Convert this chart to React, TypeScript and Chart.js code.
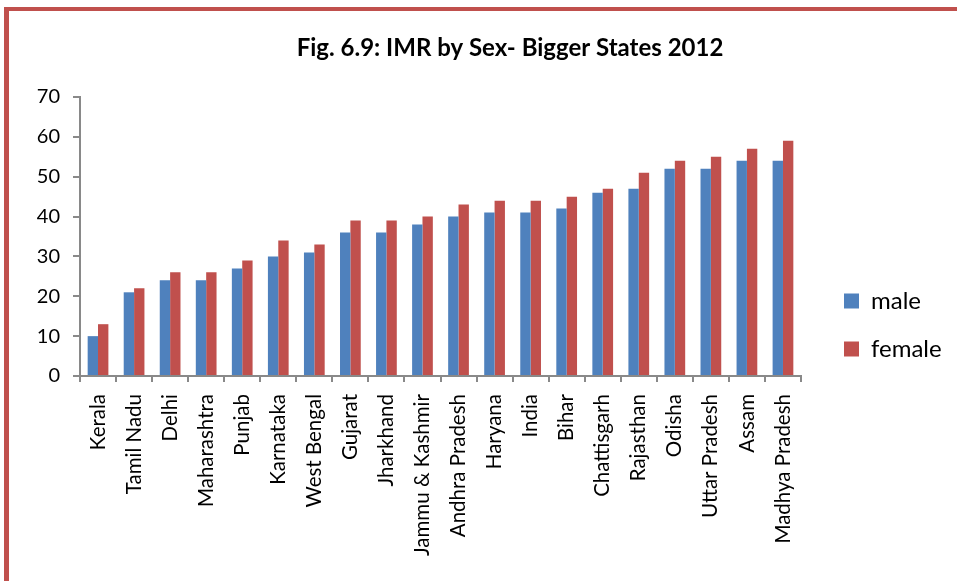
import React, { useEffect, useRef } from "react";
import { Chart, registerables } from "chart.js";

Chart.register(...registerables);

const categories = [
  "Kerala", "Tamil Nadu", "Delhi", "Maharashtra", "Punjab", "Karnataka", "West Bengal",
  "Gujarat", "Jharkhand", "Jammu & Kashmir", "Andhra Pradesh", "Haryana", "India", "Bihar",
  "Chattisgarh", "Rajasthan", "Odisha", "Uttar Pradesh", "Assam", "Madhya Pradesh",
];
const maleValues = [10, 21, 24, 24, 27, 30, 31, 36, 36, 38, 40, 41, 41, 42, 46, 47, 52, 52, 54, 54];
const femaleValues = [13, 22, 26, 26, 29, 34, 33, 39, 39, 40, 43, 44, 44, 45, 47, 51, 54, 55, 57, 59];
const seriesNames = ["male", "female"];
const titleText = "Fig. 6.9: IMR by Sex- Bigger States 2012";
const yMin = 0;
const yMax = 70;
const yStep = 10;

const FONT = "Lato, 'Liberation Sans', sans-serif";
const AXIS = "#898989";
const RIGHT_SPACE = 209; // canvas width minus chart-area right edge
const INNER_GAP = 19;

export default function App() {
  const ref = useRef<HTMLCanvasElement | null>(null);

  useEffect(() => {
    if (!ref.current) return;
    const chart = new Chart(ref.current, {
      type: "bar",
      data: {
        labels: categories,
        datasets: [
          { label: seriesNames[0], data: maleValues, backgroundColor: "#4F81BD", categoryPercentage: 0.575, barPercentage: 1 },
          { label: seriesNames[1], data: femaleValues, backgroundColor: "#C0504D", categoryPercentage: 0.575, barPercentage: 1 },
        ],
      },
      options: {
        responsive: false,
        animation: false,
        devicePixelRatio: 1,
        layout: { padding: 0 },
        plugins: {
          title: {
            display: true,
            text: titleText,
            color: "#000",
            font: { family: FONT, size: 24, weight: "bold", lineHeight: 1.2 },
            padding: { top: 21.6, bottom: 34.6 },
          },
          legend: {
            position: "right",
            align: "center",
            labels: {
              boxWidth: 15,
              boxHeight: 15,
              padding: 24,
              color: "#000",
              font: { family: FONT, size: 24, lineHeight: 1.2 },
            },
          },
          tooltip: { enabled: false },
        },
        scales: {
          x: {
            grid: { display: true, drawOnChartArea: false, drawTicks: true, tickLength: 6, color: AXIS, lineWidth: 2, offset: true },
            border: { display: true, color: AXIS, width: 2 },
            ticks: { minRotation: 90, maxRotation: 90, autoSkip: false, padding: 12, color: "#000", font: { family: FONT, size: 20.5 } },
            afterFit: (s: any) => { s.height = 262; },
          },
          y: {
            min: yMin,
            max: yMax,
            grid: { display: true, drawOnChartArea: false, drawTicks: true, tickLength: 7, color: AXIS, lineWidth: 2 },
            border: { display: true, color: AXIS, width: 2 },
            ticks: { stepSize: yStep, padding: 13, color: "#000", font: { family: FONT, size: 20 } },
            afterFit: (s: any) => { s.width = 70; },
          },
          r1: {
            type: "linear",
            position: "right",
            weight: 1,
            display: true,
            grid: { display: false },
            border: { display: false },
            ticks: { display: false },
            afterFit: (s: any) => { s.width = INNER_GAP; },
          },
          r2: {
            type: "linear",
            position: "right",
            weight: 2000,
            display: true,
            grid: { display: false },
            border: { display: false },
            ticks: { display: false },
            afterFit: (s: any) => {
              const lw = s.chart.legend ? s.chart.legend.width : 120;
              s.width = Math.max(0, RIGHT_SPACE - INNER_GAP - lw);
            },
          },
        },
      },
    } as any);
    return () => chart.destroy();
  }, []);

  return (
    <div>
      <div
        style={{
          position: "fixed",
          left: 4,
          top: 7,
          width: 2000,
          height: 2000,
          borderLeft: "5px solid #C0504D",
          borderTop: "4px solid #C0504D",
          boxSizing: "border-box",
        }}
      />
      <canvas
        ref={ref}
        width={1000}
        height={626}
        style={{ position: "fixed", left: 10, top: 12 }}
      />
    </div>
  );
}
